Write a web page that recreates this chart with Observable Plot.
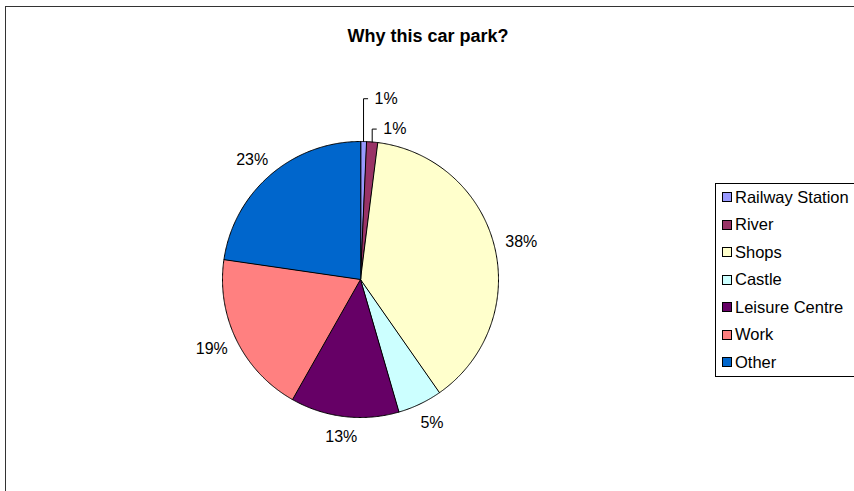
<!DOCTYPE html>
<html><head><meta charset="utf-8">
<script src="https://cdn.jsdelivr.net/npm/d3@7"></script>
<script src="https://cdn.jsdelivr.net/npm/@observablehq/plot@0.6"></script>
<style>
body{margin:0;background:#fff;font-family:"Liberation Sans",Arial,sans-serif;}
#wrap{position:relative;width:854px;height:491px;overflow:hidden;background:#fff;}
#frame{position:absolute;left:5px;top:6px;width:900px;height:600px;border:1px solid #333;box-sizing:border-box;}
#title{position:absolute;left:6px;width:844px;top:26px;text-align:center;font-weight:bold;font-size:18px;color:#000;}
#chart{position:absolute;left:0;top:0;}
#legend{position:absolute;left:715px;top:183px;width:200px;height:194px;border:1px solid #000;box-sizing:border-box;background:#fff;}
.item{position:absolute;left:6px;height:20px;display:flex;align-items:center;font-size:16.5px;color:#000;white-space:nowrap;}
.sw{width:8px;height:8px;border:1px solid #000;margin-right:3px;flex:none;}
</style></head>
<body>
<div id="wrap">
  <div id="frame"></div>
  <div id="chart"></div>
  <div id="title">Why this car park?</div>
  <div id="legend"></div>
</div>
<script>
const categories = ["Railway Station","River","Shops","Castle","Leisure Centre","Work","Other"];
const shares = [0.7, 1.3, 38.3, 5.2, 12.7, 19.1, 22.7];
const colors = ["#9999FF","#993366","#FFFFCC","#CCFFFF","#660066","#FF8080","#0066CC"];

const total = d3.sum(shares);
const arcs = d3.pie().sort(null).value(d => d)(shares);

// slice polygons in unit-circle coordinates (clockwise from 12 o'clock)
const slicePts = [];
arcs.forEach((a, i) => {
  const name = categories[i];
  const n = Math.max(2, Math.ceil((a.endAngle - a.startAngle) / (Math.PI / 360)));
  slicePts.push({name, x: 0, y: 0});
  for (let k = 0; k <= n; k++) {
    const t = a.startAngle + (a.endAngle - a.startAngle) * k / n;
    slicePts.push({name, x: Math.sin(t), y: Math.cos(t)});
  }
});

// labels
const labels = arcs.map((a, i) => {
  const mid = (a.startAngle + a.endAngle) / 2;
  return {name: categories[i], mid, text: Math.round(shares[i] / total * 100) + "%", small: shares[i] / total < 0.02};
});
const bigLabels = labels.filter(d => !d.small).map(d => ({...d, x: 1.2 * Math.sin(d.mid), y: 1.15 * Math.cos(d.mid)}));
const smallList = labels.filter(d => d.small);
const smallLabels = smallList.map((d, j) => {
  const k = smallList.length - 1 - j;
  const ly = 1.09 + 0.22 * k;
  const sx = Math.sin(d.mid), sy = Math.cos(d.mid);
  return {...d, sx, sy, ly, x: sx + 0.08, y: ly};
});
const leaderPts = smallLabels.flatMap(d => [
  {name: d.name, x: d.sx, y: d.sy},
  {name: d.name, x: d.sx, y: d.ly},
  {name: d.name, x: d.sx + 0.03, y: d.ly}
]);

const cx = 360, cy = 279, r = 138, W = 854, H = 491;
const plot = Plot.plot({
  width: W, height: H,
  marginLeft: cx - r, marginRight: W - (cx + r),
  marginTop: cy - r, marginBottom: H - (cy + r),
  x: {domain: [-1, 1], axis: null},
  y: {domain: [-1, 1], axis: null},
  color: {type: "ordinal", domain: categories, range: colors},
  style: {fontFamily: "'Liberation Sans', Arial, sans-serif", background: "transparent", overflow: "visible"},
  marks: [
    Plot.line(slicePts, {x: "x", y: "y", z: "name", fill: "name", stroke: "#000", strokeWidth: 1, curve: "linear-closed", strokeLinejoin: "round"}),
    Plot.line(leaderPts, {x: "x", y: "y", z: "name", stroke: "#000", strokeWidth: 1}),
    Plot.text(bigLabels, {x: "x", y: "y", text: "text", fontSize: 16, fill: "#000", textAnchor: "middle"}),
    Plot.text(smallLabels, {x: "x", y: "y", text: "text", fontSize: 16, fill: "#000", textAnchor: "start"})
  ]
});
document.getElementById("chart").appendChild(plot);

// legend from the plot's color scale
const cs = plot.scale("color");
const leg = document.getElementById("legend");
cs.domain.forEach((name, i) => {
  const it = document.createElement("div");
  it.className = "item";
  it.style.top = (3 + 27.5 * i) + "px";
  const sw = document.createElement("div");
  sw.className = "sw";
  sw.style.background = cs.apply(name);
  it.appendChild(sw);
  it.appendChild(document.createTextNode(name));
  leg.appendChild(it);
});
</script>
</body></html>
